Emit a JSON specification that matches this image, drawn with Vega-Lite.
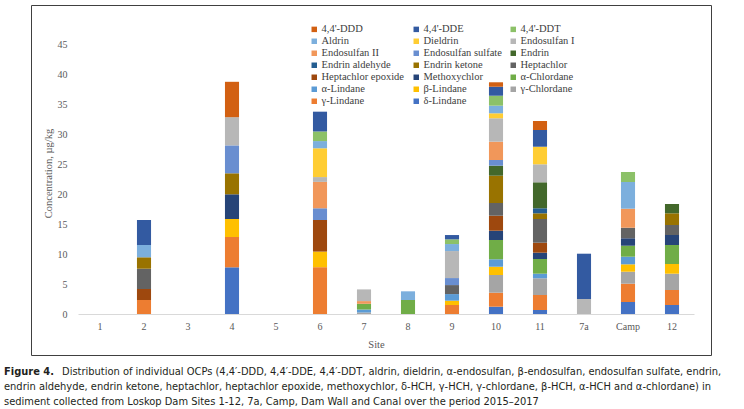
{
  "$schema": "https://vega.github.io/schema/vega-lite/v6.json",
  "width": 680,
  "height": 350,
  "autosize": "none",
  "padding": {"left": 31, "top": 5, "right": 33, "bottom": 54},
  "background": "white",
  "config": {
    "view": {"stroke": "#404040", "strokeWidth": 1},
    "font": "Liberation Serif",
    "legend": {"labelFont": "Liberation Serif", "labelFontSize": 10.5}
  },
  "title": {
    "text": "Figure 4.",
    "subtitle": [
      "⠀⠀⠀⠀⠀⠀⠀⠀Distribution of individual OCPs (4,4′-DDD, 4,4′-DDE, 4,4′-DDT, aldrin, dieldrin, α-endosulfan, β-endosulfan, endosulfan sulfate, endrin,",
      "endrin aldehyde, endrin ketone, heptachlor, heptachlor epoxide, methoxychlor, δ-HCH, γ-HCH, γ-chlordane, β-HCH, α-HCH and α-chlordane) in",
      "sediment collected from Loskop Dam Sites 1-12, 7a, Camp, Dam Wall and Canal over the period 2015–2017"
    ],
    "orient": "bottom",
    "anchor": "start",
    "frame": "group",
    "dx": -27,
    "offset": 11,
    "font": "Liberation Sans Narrow, DejaVu Sans Condensed, sans-serif",
    "fontSize": 11,
    "fontWeight": "bold",
    "color": "#231F20",
    "subtitleFont": "Liberation Sans Narrow, DejaVu Sans Condensed, sans-serif",
    "subtitleFontSize": 11,
    "subtitleColor": "#231F20",
    "subtitlePadding": -11.3,
    "subtitleLineHeight": 15
  },
  "data": {
    "values": [
      {"site": "2", "compound": "γ-Lindane", "value": 2.33, "k": 2},
      {"site": "2", "compound": "Heptachlor epoxide", "value": 1.84, "k": 8},
      {"site": "2", "compound": "Heptachlor", "value": 3.38, "k": 9},
      {"site": "2", "compound": "Endrin ketone", "value": 1.9, "k": 10},
      {"site": "2", "compound": "Aldrin", "value": 2.05, "k": 17},
      {"site": "2", "compound": "4,4'-DDE", "value": 4.17, "k": 19},

      {"site": "4", "compound": "δ-Lindane", "value": 7.78, "k": 1},
      {"site": "4", "compound": "γ-Lindane", "value": 5.05, "k": 2},
      {"site": "4", "compound": "β-Lindane", "value": 3.0, "k": 4},
      {"site": "4", "compound": "Methoxychlor", "value": 4.12, "k": 7},
      {"site": "4", "compound": "Endrin ketone", "value": 3.5, "k": 10},
      {"site": "4", "compound": "Endosulfan sulfate", "value": 4.65, "k": 13},
      {"site": "4", "compound": "Endosulfan I", "value": 4.7, "k": 15},
      {"site": "4", "compound": "4,4'-DDD", "value": 5.9, "k": 20},

      {"site": "6", "compound": "γ-Lindane", "value": 7.8, "k": 2},
      {"site": "6", "compound": "β-Lindane", "value": 2.6, "k": 4},
      {"site": "6", "compound": "Heptachlor epoxide", "value": 5.27, "k": 8},
      {"site": "6", "compound": "Endosulfan sulfate", "value": 1.95, "k": 13},
      {"site": "6", "compound": "Endosulfan II", "value": 4.4, "k": 14},
      {"site": "6", "compound": "Endosulfan I", "value": 0.8, "k": 15},
      {"site": "6", "compound": "Dieldrin", "value": 4.8, "k": 16},
      {"site": "6", "compound": "Aldrin", "value": 1.2, "k": 17},
      {"site": "6", "compound": "4,4'-DDT", "value": 1.6, "k": 18},
      {"site": "6", "compound": "4,4'-DDE", "value": 3.3, "k": 19},

      {"site": "7", "compound": "γ-Chlordane", "value": 0.25, "k": 3},
      {"site": "7", "compound": "α-Lindane", "value": 0.5, "k": 5},
      {"site": "7", "compound": "α-Chlordane", "value": 0.95, "k": 6},
      {"site": "7", "compound": "Endosulfan II", "value": 0.45, "k": 14},
      {"site": "7", "compound": "Endosulfan I", "value": 1.95, "k": 15},

      {"site": "8", "compound": "α-Chlordane", "value": 2.33, "k": 6},
      {"site": "8", "compound": "Aldrin", "value": 1.45, "k": 17},

      {"site": "9", "compound": "γ-Lindane", "value": 1.5, "k": 2},
      {"site": "9", "compound": "β-Lindane", "value": 0.72, "k": 4},
      {"site": "9", "compound": "α-Lindane", "value": 1.1, "k": 5},
      {"site": "9", "compound": "Heptachlor", "value": 1.5, "k": 9},
      {"site": "9", "compound": "Endosulfan sulfate", "value": 1.17, "k": 13},
      {"site": "9", "compound": "Endosulfan I", "value": 4.5, "k": 15},
      {"site": "9", "compound": "Aldrin", "value": 1.17, "k": 17},
      {"site": "9", "compound": "4,4'-DDT", "value": 0.78, "k": 18},
      {"site": "9", "compound": "4,4'-DDE", "value": 0.72, "k": 19},

      {"site": "10", "compound": "δ-Lindane", "value": 1.22, "k": 1},
      {"site": "10", "compound": "γ-Lindane", "value": 2.33, "k": 2},
      {"site": "10", "compound": "γ-Chlordane", "value": 2.95, "k": 3},
      {"site": "10", "compound": "β-Lindane", "value": 1.38, "k": 4},
      {"site": "10", "compound": "α-Lindane", "value": 1.24, "k": 5},
      {"site": "10", "compound": "α-Chlordane", "value": 3.21, "k": 6},
      {"site": "10", "compound": "Methoxychlor", "value": 1.55, "k": 7},
      {"site": "10", "compound": "Heptachlor epoxide", "value": 2.5, "k": 8},
      {"site": "10", "compound": "Heptachlor", "value": 2.12, "k": 9},
      {"site": "10", "compound": "Endrin ketone", "value": 4.55, "k": 10},
      {"site": "10", "compound": "Endrin", "value": 1.67, "k": 12},
      {"site": "10", "compound": "Endosulfan sulfate", "value": 0.95, "k": 13},
      {"site": "10", "compound": "Endosulfan II", "value": 3.05, "k": 14},
      {"site": "10", "compound": "Endosulfan I", "value": 3.9, "k": 15},
      {"site": "10", "compound": "Dieldrin", "value": 0.83, "k": 16},
      {"site": "10", "compound": "Aldrin", "value": 1.27, "k": 17},
      {"site": "10", "compound": "4,4'-DDT", "value": 1.66, "k": 18},
      {"site": "10", "compound": "4,4'-DDE", "value": 1.5, "k": 19},
      {"site": "10", "compound": "4,4'-DDD", "value": 0.74, "k": 20},

      {"site": "11", "compound": "δ-Lindane", "value": 0.67, "k": 1},
      {"site": "11", "compound": "γ-Lindane", "value": 2.5, "k": 2},
      {"site": "11", "compound": "γ-Chlordane", "value": 2.78, "k": 3},
      {"site": "11", "compound": "α-Lindane", "value": 0.77, "k": 5},
      {"site": "11", "compound": "α-Chlordane", "value": 2.45, "k": 6},
      {"site": "11", "compound": "Methoxychlor", "value": 1.05, "k": 7},
      {"site": "11", "compound": "Heptachlor epoxide", "value": 1.66, "k": 8},
      {"site": "11", "compound": "Heptachlor", "value": 3.95, "k": 9},
      {"site": "11", "compound": "Endrin ketone", "value": 0.95, "k": 10},
      {"site": "11", "compound": "Endrin aldehyde", "value": 0.84, "k": 11},
      {"site": "11", "compound": "Endrin", "value": 4.33, "k": 12},
      {"site": "11", "compound": "Endosulfan I", "value": 3.0, "k": 15},
      {"site": "11", "compound": "Dieldrin", "value": 2.93, "k": 16},
      {"site": "11", "compound": "4,4'-DDE", "value": 2.79, "k": 19},
      {"site": "11", "compound": "4,4'-DDD", "value": 1.5, "k": 20},

      {"site": "7a", "compound": "Endosulfan I", "value": 2.5, "k": 15},
      {"site": "7a", "compound": "4,4'-DDE", "value": 7.55, "k": 19},

      {"site": "Camp", "compound": "δ-Lindane", "value": 2.0, "k": 1},
      {"site": "Camp", "compound": "γ-Lindane", "value": 3.05, "k": 2},
      {"site": "Camp", "compound": "γ-Chlordane", "value": 2.0, "k": 3},
      {"site": "Camp", "compound": "β-Lindane", "value": 1.23, "k": 4},
      {"site": "Camp", "compound": "α-Lindane", "value": 1.27, "k": 5},
      {"site": "Camp", "compound": "α-Chlordane", "value": 1.83, "k": 6},
      {"site": "Camp", "compound": "Methoxychlor", "value": 1.24, "k": 7},
      {"site": "Camp", "compound": "Heptachlor", "value": 1.76, "k": 9},
      {"site": "Camp", "compound": "Endosulfan II", "value": 3.17, "k": 14},
      {"site": "Camp", "compound": "Aldrin", "value": 4.45, "k": 17},
      {"site": "Camp", "compound": "4,4'-DDT", "value": 1.67, "k": 18},

      {"site": "12", "compound": "δ-Lindane", "value": 1.5, "k": 1},
      {"site": "12", "compound": "γ-Lindane", "value": 2.5, "k": 2},
      {"site": "12", "compound": "γ-Chlordane", "value": 2.72, "k": 3},
      {"site": "12", "compound": "β-Lindane", "value": 1.61, "k": 4},
      {"site": "12", "compound": "α-Chlordane", "value": 3.17, "k": 6},
      {"site": "12", "compound": "Methoxychlor", "value": 1.67, "k": 7},
      {"site": "12", "compound": "Heptachlor", "value": 1.66, "k": 9},
      {"site": "12", "compound": "Endrin ketone", "value": 1.95, "k": 10},
      {"site": "12", "compound": "Endrin", "value": 1.55, "k": 12}
    ]
  },
  "mark": {"type": "bar"},
  "encoding": {
    "x": {
      "field": "site",
      "type": "nominal",
      "sort": null,
      "scale": {
        "domain": ["1", "2", "3", "4", "5", "6", "7", "8", "9", "10", "11", "7a", "Camp", "12"],
        "range": [47, 663],
        "paddingInner": 0.68,
        "paddingOuter": 0.34
      },
      "axis": {
        "title": "Site",
        "offset": -41,
        "labelAngle": 0,
        "ticks": false,
        "grid": false,
        "domainColor": "#D9D9D9",
        "labelFont": "Liberation Serif",
        "labelFontSize": 10,
        "labelColor": "#595959",
        "labelPadding": 7,
        "titleFont": "Liberation Serif",
        "titleFontSize": 10.5,
        "titleFontWeight": "normal",
        "titleColor": "#595959",
        "titlePadding": 8,
        "titleX": 345
      }
    },
    "y": {
      "field": "value",
      "type": "quantitative",
      "stack": "zero",
      "scale": {"domain": [0, 45], "range": [309, 39], "nice": false, "zero": true},
      "axis": {
        "title": "Concentration, µg/kg",
        "offset": -47,
        "values": [0, 5, 10, 15, 20, 25, 30, 35, 40, 45],
        "domain": false,
        "ticks": false,
        "grid": false,
        "labelFont": "Liberation Serif",
        "labelFontSize": 10,
        "labelColor": "#595959",
        "labelPadding": 11,
        "titleFont": "Liberation Serif",
        "titleFontSize": 10.5,
        "titleFontWeight": "normal",
        "titleColor": "#595959",
        "titlePadding": 4,
        "titleY": 168
      }
    },
    "color": {
      "field": "compound",
      "type": "nominal",
      "scale": {
        "domain": ["4,4'-DDD", "4,4'-DDE", "4,4'-DDT", "Aldrin", "Dieldrin", "Endosulfan I", "Endosulfan II", "Endosulfan sulfate", "Endrin", "Endrin aldehyde", "Endrin ketone", "Heptachlor", "Heptachlor epoxide", "Methoxychlor", "α-Chlordane", "α-Lindane", "β-Lindane", "γ-Chlordane", "γ-Lindane", "δ-Lindane"],
        "range": ["#D26012", "#335AA1", "#8CC168", "#7CAFDD", "#FFCD33", "#B7B7B7", "#F1975A", "#698ED0", "#43682B", "#255E91", "#997300", "#636363", "#9E480E", "#264478", "#70AD47", "#5B9BD5", "#FFC000", "#A5A5A5", "#ED7D31", "#4472C4"]
      },
      "legend": {
        "title": null,
        "orient": "none",
        "legendX": 278,
        "legendY": 19,
        "direction": "horizontal",
        "columns": 3,
        "symbolType": "square",
        "symbolSize": 30,
        "symbolStrokeWidth": 0,
        "labelFont": "Liberation Serif",
        "labelFontSize": 10.5,
        "labelColor": "#404040",
        "labelOffset": 2,
        "rowPadding": 1,
        "columnPadding": 6,
        "labelLimit": 200
      }
    },
    "order": {"field": "k", "type": "quantitative"}
  }
}
